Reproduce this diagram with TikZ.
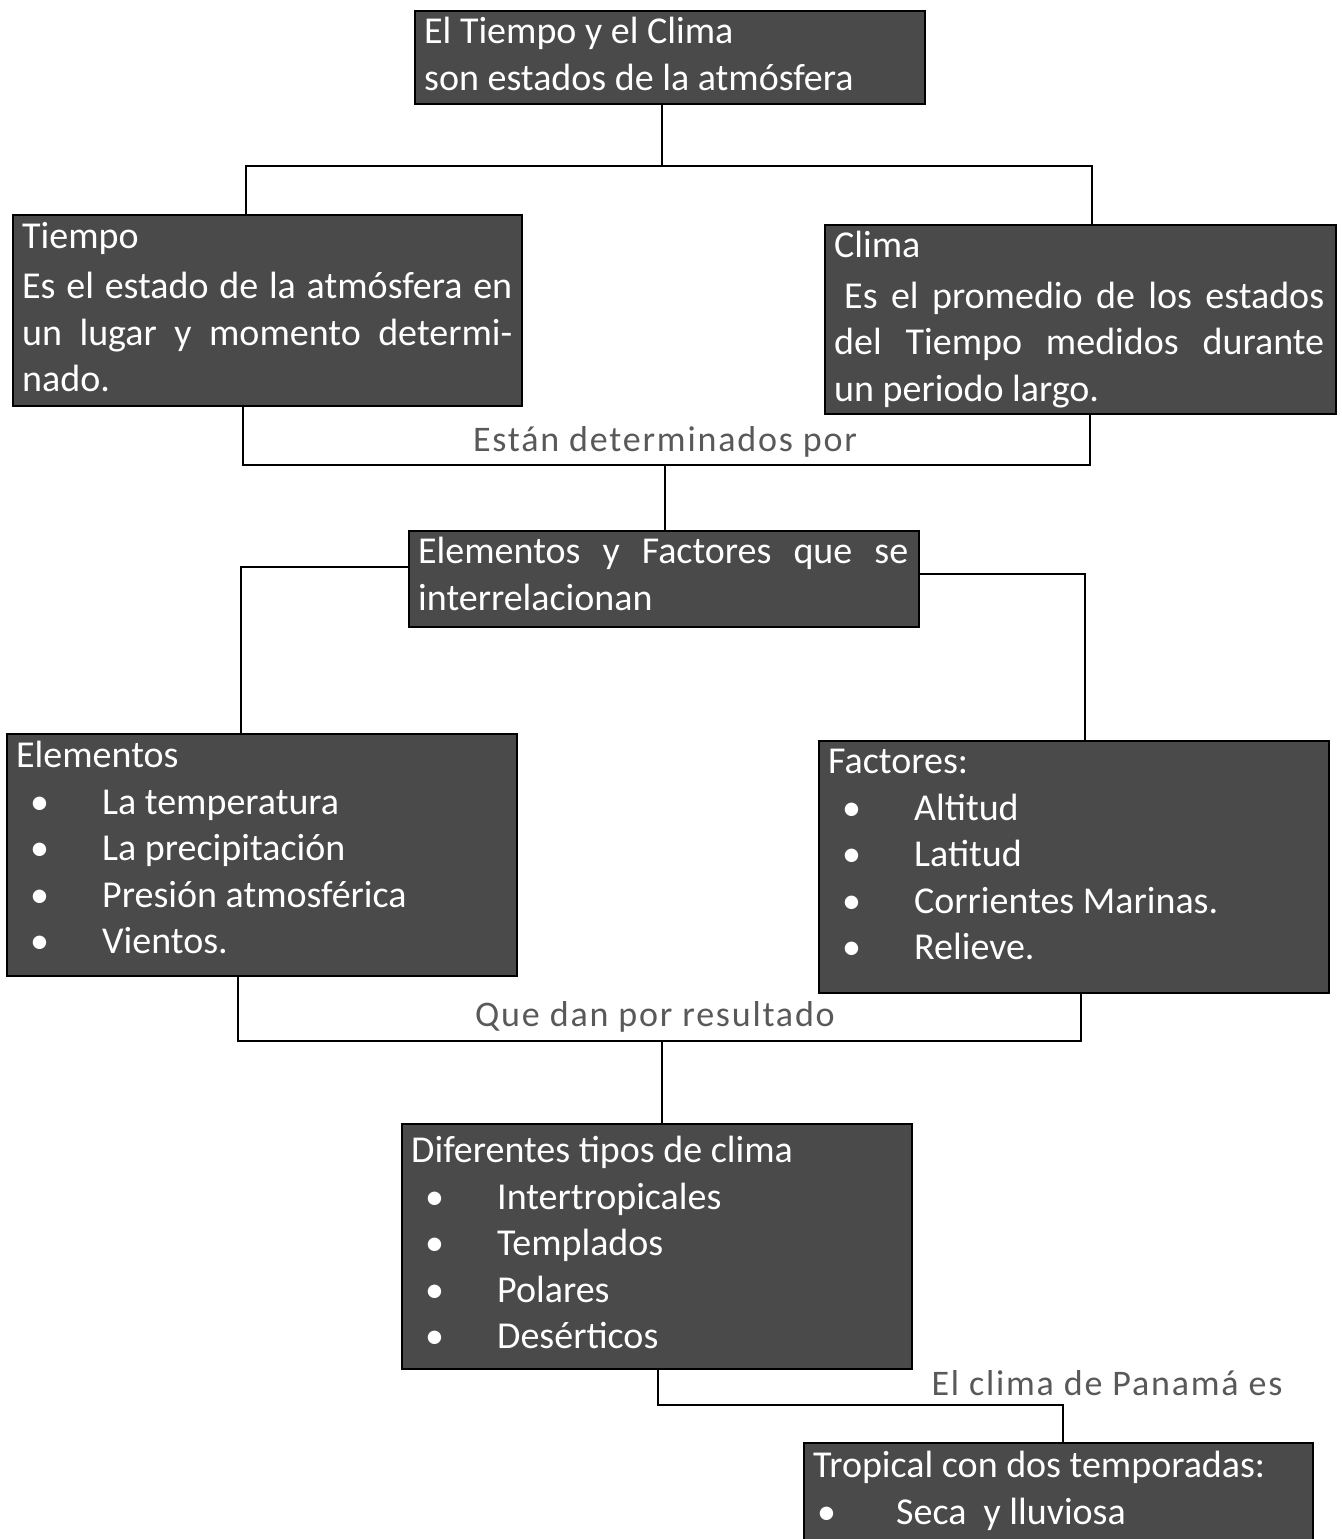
\documentclass[tikz,border=0pt]{standalone}
\usepackage{fontspec}
\setmainfont{Carlito}
\newfontfamily\lblfont[LetterSpace=5]{Carlito}
\definecolor{boxgray}{HTML}{4A4A4A}
\newcommand\bulitem{\hspace*{14pt}\makebox[72pt][l]{•}}
\newcommand\just[1]{\makebox[490pt][s]{#1}}
\begin{document}
\begin{tikzpicture}[x=1pt,y=-1pt,
 box/.style={draw=black, line width=1.5pt, fill=boxgray, anchor=north west, inner sep=0pt},
 txt/.style={anchor=north west, inner sep=0pt, align=left, text=white, font=\fontsize{38}{46.5}\selectfont},
 lbl/.style={text=black!65, font=\lblfont\fontsize{36}{44}\selectfont, inner sep=0pt},
 wire/.style={line width=1.6pt, draw=black}]
\useasboundingbox (0,0) rectangle (1341,1539);
% boxes
\node[box, minimum width=510pt, minimum height=93pt] (top) at (414,10) {};
\node[txt] (topT) at (424,17) {El Tiempo y el Clima\\son estados de la atmósfera};

\node[box, minimum width=509pt, minimum height=191pt] (tiempo) at (12,214) {};
\node[txt] (tiempoT) at (22,222) {Tiempo\\[4pt]\just{Es el estado de la atmósfera en}\\\just{un lugar y momento determi-}\\nado.};

\node[box, minimum width=511pt, minimum height=189pt] (clima) at (824,224) {};
\node[txt] (climaT) at (834,231) {Clima\\[4pt]\makebox[490pt][s]{\hspace*{10pt}Es el promedio de los estados}\\\just{del Tiempo medidos durante}\\un periodo largo.};

\node[box, minimum width=510pt, minimum height=96pt] (eyf) at (408,530) {};
\node[txt] (eyfT) at (418,537) {\just{Elementos y Factores que se}\\interrelacionan};

\node[box, minimum width=510pt, minimum height=242pt] (elem) at (6,733) {};
\node[txt] (elemT) at (16,741) {Elementos\\\bulitem La temperatura\\\bulitem La precipitación\\\bulitem Presión atmosférica\\\bulitem Vientos.};

\node[box, minimum width=510pt, minimum height=252pt] (fact) at (818,740) {};
\node[txt] (factT) at (828,749) {Factores:\\\bulitem Altitud\\\bulitem Latitud\\\bulitem Corrientes Marinas.\\\bulitem Relieve.};

\node[box, minimum width=510pt, minimum height=245pt] (dif) at (401,1123) {};
\node[txt] (difT) at (411,1136) {Diferentes tipos de clima\\\bulitem Intertropicales\\\bulitem Templados\\\bulitem Polares\\\bulitem Desérticos};

\node[box, minimum width=509pt, minimum height=97pt] (trop) at (803,1442) {};
\node[txt] (tropT) at (813,1451) {Tropical con dos temporadas:\\\hspace*{4pt}\makebox[79pt][l]{•}Seca \ y lluviosa};

% labels
\node[lbl] (lbl1) at (665,442) {Están determinados por};
\node[lbl] (lbl2) at (655,1017) {Que dan por resultado};
\node[lbl] (lbl3) at (1107,1383) {El clima de Panamá es};

% connectors
\coordinate (l1) at (246,166);
\coordinate (r1) at (1092,166);
\coordinate (m1) at (662,166);
\draw[wire] (m1 |- top.south) -- (m1);
\draw[wire] (l1 |- tiempo.north) -- (l1) -- (r1) -- (r1 |- clima.north);

\coordinate (l2) at (243,465);
\coordinate (r2) at (1090,465);
\coordinate (m2) at (665,465);
\draw[wire] (l2 |- tiempo.south) -- (l2) -- (r2) -- (r2 |- clima.south);
\draw[wire] (m2) -- (m2 |- eyf.north);

\coordinate (l3) at (241,567);
\coordinate (r3) at (1085,574);
\draw[wire] (l3 -| eyf.west) -- (l3) -- (l3 |- elem.north);
\draw[wire] (r3 -| eyf.east) -- (r3) -- (r3 |- fact.north);

\coordinate (l4) at (238,1041);
\coordinate (r4) at (1081,1041);
\coordinate (m4) at (662,1041);
\draw[wire] (l4 |- elem.south) -- (l4) -- (r4) -- (r4 |- fact.south);
\draw[wire] (m4) -- (m4 |- dif.north);

\coordinate (l5) at (658,1405);
\coordinate (r5) at (1063,1405);
\draw[wire] (l5 |- dif.south) -- (l5) -- (r5) -- (r5 |- trop.north);
\end{tikzpicture}
\end{document}
